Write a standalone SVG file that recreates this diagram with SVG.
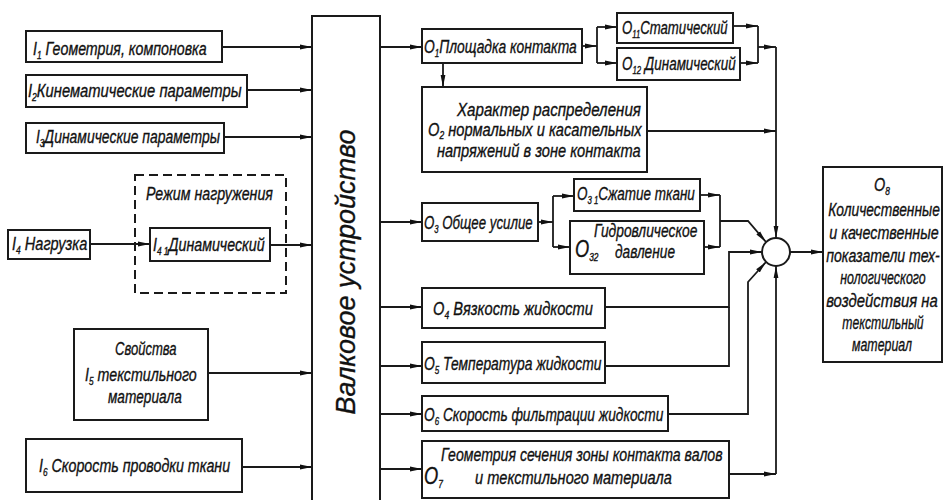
<svg xmlns="http://www.w3.org/2000/svg" width="944" height="500" viewBox="0 0 944 500">
<style>
.b{fill:#fff;stroke:#1a1a1a;stroke-width:2}
.d{fill:none;stroke:#1a1a1a;stroke-width:2;stroke-dasharray:9 5}
.t{font-family:"Liberation Sans",Arial,sans-serif;font-style:italic;font-size:19px;fill:#111;stroke:#111;stroke-width:0.35}
.m{text-anchor:middle}
.s{font-size:11px}
.c{fill:none;stroke:#1a1a1a;stroke-width:1.8}
.a{marker-end:url(#ah)}
</style>
<defs>
<marker id="ah" viewBox="0 0 12 6" refX="12" refY="3" markerWidth="12" markerHeight="6" markerUnits="userSpaceOnUse" orient="auto"><path d="M0,0.6 L12,3 L0,5.4 z" fill="#111"/></marker>
</defs>
<rect width="944" height="500" fill="#fff"/>

<g id="connectors">
<path class="c a" d="M222,47 H312"/>
<path class="c a" d="M247,90 H312"/>
<path class="c a" d="M224,137 H312"/>
<path class="c a" d="M90,244 H150"/>
<path class="c a" d="M270,245 H312"/>
<path class="c a" d="M208,373 H312"/>
<path class="c a" d="M242,467 H312"/>
<path class="c a" d="M380,47 H422"/>
<path class="c a" d="M380,222 H422"/>
<path class="c a" d="M380,307 H422"/>
<path class="c a" d="M380,366 H422"/>
<path class="c a" d="M380,414 H422"/>
<path class="c a" d="M380,469 H422"/>
<path class="c a" d="M582,46 H597"/>
<path class="c" d="M597,27 V63"/>
<path class="c a" d="M597,27 H617"/>
<path class="c a" d="M597,63 H617"/>
<path class="c a" d="M733,26 H758"/>
<path class="c a" d="M740,63 H758"/>
<path class="c" d="M758,26 V63"/>
<path class="c a" d="M758,47 H776"/>
<path class="c a" d="M776,47 V238"/>
<path class="c a" d="M443,63 V87"/>
<path class="c a" d="M647,131 H776"/>
<path class="c a" d="M538,222 H553"/>
<path class="c" d="M553,196 V247"/>
<path class="c a" d="M553,196 H574"/>
<path class="c a" d="M553,247 H570"/>
<path class="c a" d="M700,195 H720"/>
<path class="c a" d="M704,247 H720"/>
<path class="c" d="M720,195 V247"/>
<path class="c a" d="M720,221 H748 L766,242"/>
<path class="c a" d="M605,307 H729 V252 H762"/>
<path class="c" d="M605,366 H729 V307"/>
<path class="c a" d="M668,414 H748 V282 L766,262"/>
<path class="c a" d="M729,474 H776"/>
<path class="c a" d="M776,474 V266"/>
<path class="c a" d="M790,252 H823"/>
</g>

<g id="I1"><rect class="b" x="26" y="31" width="196" height="31"/><text class="t" transform="translate(33,55) scale(.76,1)" textLength="228.5" lengthAdjust="spacingAndGlyphs">I<tspan class="s" dy="4">1</tspan><tspan dy="-4"> Геометрия, компоновка</tspan></text></g>
<g id="I2"><rect class="b" x="26" y="75" width="221" height="32"/><text class="t" transform="translate(28,97) scale(.76,1)" textLength="281" lengthAdjust="spacingAndGlyphs">I<tspan class="s" dy="4">2</tspan><tspan dy="-4">Кинематические параметры</tspan></text></g>
<g id="I3"><rect class="b" x="26" y="123" width="198" height="30"/><text class="t" transform="translate(36,143) scale(.76,1)" textLength="242" lengthAdjust="spacingAndGlyphs">I<tspan class="s" dy="4">3</tspan><tspan dy="-4">Динамические параметры</tspan></text></g>
<g id="mode"><rect class="d" x="135" y="175" width="151" height="118"/><text class="t" transform="translate(146,200) scale(.76,1)" textLength="167" lengthAdjust="spacingAndGlyphs">Режим нагружения</text></g>
<g id="I4"><rect class="b" x="8" y="230" width="82" height="29"/><text class="t" transform="translate(12,250) scale(.76,1)" textLength="99" lengthAdjust="spacingAndGlyphs">I<tspan class="s" dy="4">4</tspan><tspan dy="-4"> Нагрузка</tspan></text></g>
<g id="I41"><rect class="b" x="150" y="228" width="120" height="33"/><text class="t" transform="translate(153,251) scale(.76,1)" textLength="147" lengthAdjust="spacingAndGlyphs">I<tspan class="s" dy="4">4 1</tspan><tspan dy="-4">Динамический</tspan></text></g>
<g id="I5"><rect class="b" x="74" y="329" width="134" height="91"/>
<text class="t" transform="translate(115,355) scale(.76,1)" textLength="81" lengthAdjust="spacingAndGlyphs">Свойства</text>
<text class="t" transform="translate(85,381) scale(.76,1)" textLength="147" lengthAdjust="spacingAndGlyphs">I<tspan class="s" dy="4">5</tspan><tspan dy="-4"> текстильного</tspan></text>
<text class="t" transform="translate(108,403) scale(.76,1)" textLength="97" lengthAdjust="spacingAndGlyphs">материала</text></g>
<g id="I6"><rect class="b" x="26" y="439" width="216" height="53"/><text class="t" transform="translate(39,472) scale(.76,1)" textLength="251.5" lengthAdjust="spacingAndGlyphs">I<tspan class="s" dy="4">6</tspan><tspan dy="-4"> Скорость проводки ткани</tspan></text></g>

<g id="main"><rect class="b" x="312" y="16" width="68" height="494"/><text class="t m" transform="translate(355,272) rotate(-90)" style="font-size:28px" textLength="285" lengthAdjust="spacingAndGlyphs">Валковое устройство</text></g>

<g id="O1"><rect class="b" x="422" y="29" width="160" height="34"/><text class="t" transform="translate(424,53) scale(.76,1)" textLength="201" lengthAdjust="spacingAndGlyphs">O<tspan class="s" dy="4">1</tspan><tspan dy="-4">Площадка контакта</tspan></text></g>
<g id="O11"><rect class="b" x="617" y="13" width="116" height="30"/><text class="t" transform="translate(622,34) scale(.76,1)" textLength="139" lengthAdjust="spacingAndGlyphs">O<tspan class="s" dy="4">11</tspan><tspan dy="-4">Статический</tspan></text></g>
<g id="O12"><rect class="b" x="617" y="48" width="123" height="32"/><text class="t" transform="translate(622,70) scale(.76,1)" textLength="149.5" lengthAdjust="spacingAndGlyphs">O<tspan class="s" dy="4">12</tspan><tspan dy="-4"> Динамический</tspan></text></g>
<g id="O2"><rect class="b" x="422" y="87" width="225" height="85"/>
<text class="t" transform="translate(457,116) scale(.76,1)" textLength="242" lengthAdjust="spacingAndGlyphs">Характер распределения</text>
<text class="t" transform="translate(428,136) scale(.76,1)" textLength="281" lengthAdjust="spacingAndGlyphs">O<tspan class="s" dy="3">2</tspan><tspan dy="-3"> нормальных и касательных</tspan></text>
<text class="t" transform="translate(437,157) scale(.76,1)" textLength="268" lengthAdjust="spacingAndGlyphs">напряжений в зоне контакта</text></g>
<g id="O3"><rect class="b" x="422" y="203" width="116" height="38"/><text class="t" transform="translate(424,229) scale(.76,1)" textLength="143" lengthAdjust="spacingAndGlyphs">O<tspan class="s" dy="4">3</tspan><tspan dy="-4"> Общее усилие</tspan></text></g>
<g id="O31"><rect class="b" x="574" y="179" width="126" height="32"/><text class="t" transform="translate(577,200) scale(.76,1)" textLength="155" lengthAdjust="spacingAndGlyphs">O<tspan class="s" dy="4">3 1</tspan><tspan dy="-4">Сжатие ткани</tspan></text></g>
<g id="O32"><rect class="b" x="570" y="221" width="134" height="53"/>
<text class="t" transform="translate(575,257) scale(.76,1)" style="font-size:24px">O<tspan class="s" dy="4">32</tspan></text>
<text class="t" transform="translate(594,237) scale(.76,1)" textLength="136" lengthAdjust="spacingAndGlyphs">Гидровлическое</text>
<text class="t" transform="translate(615,258) scale(.76,1)" textLength="79" lengthAdjust="spacingAndGlyphs">давление</text></g>
<g id="O4"><rect class="b" x="422" y="288" width="183" height="40"/><text class="t" transform="translate(433,315) scale(.76,1)" textLength="210.5" lengthAdjust="spacingAndGlyphs">O<tspan class="s" dy="4">4</tspan><tspan dy="-4">  Вязкость жидкости</tspan></text></g>
<g id="O5"><rect class="b" x="422" y="342" width="183" height="41"/><text class="t" transform="translate(424,370) scale(.76,1)" textLength="233.5" lengthAdjust="spacingAndGlyphs">O<tspan class="s" dy="4">5</tspan><tspan dy="-4"> Температура жидкости</tspan></text></g>
<g id="O6"><rect class="b" x="422" y="396" width="246" height="35"/><text class="t" transform="translate(424,421) scale(.76,1)" textLength="315" lengthAdjust="spacingAndGlyphs">O<tspan class="s" dy="4">6</tspan><tspan dy="-4"> Скорость фильтрации жидкости</tspan></text></g>
<g id="O7"><rect class="b" x="422" y="441" width="307" height="57"/>
<text class="t" transform="translate(424,484) scale(.76,1)" style="font-size:24px">O<tspan class="s" dy="4">7</tspan></text>
<text class="t" transform="translate(441,461) scale(.76,1)" textLength="370.5" lengthAdjust="spacingAndGlyphs">Геометрия сечения зоны контакта валов</text>
<text class="t" transform="translate(475,484) scale(.76,1)" textLength="259" lengthAdjust="spacingAndGlyphs">и текстильного материала</text></g>

<g id="junction"><circle cx="776" cy="252" r="14" fill="#fff" stroke="#1a1a1a" stroke-width="2"/></g>

<g id="O8"><rect class="b" x="823" y="167" width="119" height="195"/>
<text class="t m" transform="translate(882,191) scale(.76,1)">O<tspan class="s" dy="4">8</tspan></text>
<text class="t m" transform="translate(884,216) scale(.76,1)" textLength="147" lengthAdjust="spacingAndGlyphs">Количественные</text>
<text class="t m" transform="translate(884,239) scale(.76,1)" textLength="144" lengthAdjust="spacingAndGlyphs">и качественные</text>
<text class="t m" transform="translate(883,262) scale(.76,1)" textLength="149.5" lengthAdjust="spacingAndGlyphs">показатели тех-</text>
<text class="t m" transform="translate(883,284) scale(.76,1)" textLength="112.5" lengthAdjust="spacingAndGlyphs">нологического</text>
<text class="t m" transform="translate(882,307) scale(.76,1)" textLength="147" lengthAdjust="spacingAndGlyphs">воздействия на</text>
<text class="t m" transform="translate(883,329) scale(.76,1)" textLength="107" lengthAdjust="spacingAndGlyphs">текстильный</text>
<text class="t m" transform="translate(882,351) scale(.76,1)" textLength="79" lengthAdjust="spacingAndGlyphs">материал</text></g>
</svg>
